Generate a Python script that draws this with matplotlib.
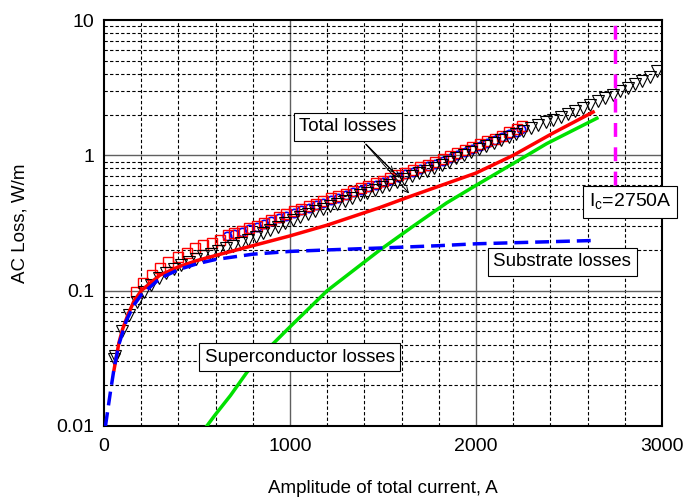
import matplotlib
matplotlib.use("Agg")
import matplotlib.pyplot as plt
from matplotlib.ticker import MultipleLocator, NullFormatter, FixedLocator, FixedFormatter

plt.rcParams['font.family'] = ['Liberation Sans', 'DejaVu Sans']

# calculated curves
total_x = [54, 80, 100, 130, 160, 200, 300, 400, 500, 600, 800, 1000, 1200, 1480, 1660, 2000, 2200, 2410, 2630]
total_y = [0.026, 0.041, 0.052, 0.067, 0.083, 0.1, 0.13, 0.15, 0.167, 0.182, 0.215, 0.254, 0.305, 0.41, 0.505, 0.74, 1.0, 1.45, 2.09]

substrate_x = [8, 20, 35, 55, 80, 120, 160, 200, 300, 400, 500, 600, 800, 1000, 1200, 1500, 1800, 2000, 2300, 2640]
substrate_y = [0.01, 0.013, 0.018, 0.027, 0.04, 0.06, 0.078, 0.093, 0.123, 0.143, 0.158, 0.17, 0.186, 0.195, 0.2, 0.207, 0.215, 0.222, 0.228, 0.235]

sc_x = [553, 600, 680, 769, 880, 1000, 1200, 1484, 1663, 1842, 2000, 2200, 2380, 2650]
sc_y = [0.01, 0.0122, 0.0168, 0.025, 0.037, 0.054, 0.1, 0.2, 0.3, 0.445, 0.6, 0.87, 1.22, 1.88]

# measured data
tri_x = [55, 60, 95, 135, 175, 215, 255, 295, 335, 375, 415, 455, 495, 535, 575, 615, 655,
         695, 735, 775, 815, 855, 895, 935, 975, 1015, 1055, 1095, 1135, 1175, 1215,
         1255, 1295, 1335, 1375, 1415, 1455, 1495, 1535, 1575, 1615, 1655, 1695, 1735,
         1775, 1815, 1855, 1895, 1935, 1975, 2015, 2055, 2095, 2135, 2175, 2215, 2255,
         2295, 2335, 2375, 2415, 2455, 2495, 2535, 2575, 2615, 2655, 2695, 2735, 2775,
         2815, 2855, 2895, 2935, 2975]
tri_y = [0.031, 0.033, 0.05, 0.066, 0.083, 0.097, 0.11, 0.123, 0.134, 0.145, 0.155, 0.164, 0.172,
         0.18, 0.188, 0.196, 0.205, 0.215, 0.226, 0.238, 0.25, 0.265, 0.28, 0.297, 0.315,
         0.333, 0.35, 0.367, 0.385, 0.402, 0.42, 0.44, 0.46, 0.48, 0.505, 0.53, 0.555,
         0.58, 0.605, 0.635, 0.665, 0.7, 0.735, 0.77, 0.81, 0.855, 0.9, 0.95, 1.0, 1.06,
         1.12, 1.18, 1.24, 1.3, 1.37, 1.44, 1.51, 1.59, 1.67, 1.75, 1.84, 1.93, 2.03,
         2.13, 2.24, 2.36, 2.5, 2.64, 2.8, 2.97, 3.15, 3.35, 3.57, 3.82, 4.2]

sq_x = [172, 210, 256, 300, 344, 398, 446, 489, 532, 580, 624, 667, 700, 740, 780, 820,
        860, 900, 940, 980, 1020, 1060, 1100, 1140, 1180, 1220, 1260, 1300, 1340, 1380,
        1420, 1460, 1500, 1540, 1580, 1620, 1660, 1700, 1740, 1780, 1820, 1860, 1900,
        1940, 1980, 2020, 2060, 2100, 2140, 2180, 2220, 2250]
sq_y = [0.098, 0.114, 0.13, 0.147, 0.163, 0.178, 0.19, 0.206, 0.217, 0.225, 0.236, 0.257,
        0.265, 0.277, 0.29, 0.303, 0.318, 0.333, 0.35, 0.368, 0.385, 0.402, 0.42, 0.44,
        0.46, 0.48, 0.5, 0.522, 0.545, 0.57, 0.595, 0.62, 0.65, 0.678, 0.71, 0.745, 0.78,
        0.815, 0.855, 0.9, 0.945, 0.99, 1.04, 1.09, 1.15, 1.21, 1.27, 1.33, 1.4, 1.48,
        1.56, 1.65]

circ_x = [660, 700, 740, 780, 820, 860, 900, 940, 980, 1020, 1060, 1100, 1140, 1180, 1220,
          1260, 1300, 1340, 1380, 1420, 1460, 1500, 1540, 1580, 1620, 1660, 1700, 1740,
          1780, 1820, 1860, 1900, 1940, 1980, 2020, 2060, 2100, 2140, 2180, 2220, 2240]
circ_y = [0.255, 0.262, 0.272, 0.284, 0.297, 0.311, 0.326, 0.342, 0.358, 0.375, 0.392, 0.41,
          0.428, 0.447, 0.467, 0.488, 0.51, 0.532, 0.555, 0.58, 0.605, 0.632, 0.66, 0.69,
          0.722, 0.755, 0.79, 0.83, 0.87, 0.915, 0.96, 1.01, 1.06, 1.115, 1.17, 1.23, 1.29,
          1.36, 1.43, 1.5, 1.56]

Ic = 2750

fig = plt.figure(figsize=(6.85, 4.98), dpi=100)
ax = fig.add_axes([0.1518, 0.1446, 0.8146, 0.8152])
ax.set_yscale('log')
ax.set_xlim(0, 3000)
ax.set_ylim(0.01, 10)

# grid
for x in range(200, 3000, 200):
    if x % 1000 == 0:
        ax.axvline(x, color='#606060', lw=1.0, zorder=0)
    else:
        ax.axvline(x, color='black', lw=0.8, ls=(0, (3, 2)), zorder=0)
for dec in [0.01, 0.1, 1]:
    for m in range(2, 10):
        ax.axhline(dec * m, color='black', lw=0.8, ls=(0, (3, 2)), zorder=0)
for y in [0.1, 1]:
    ax.axhline(y, color='#606060', lw=1.0, zorder=0)

ax.plot(circ_x, circ_y, 'o', mfc='none', mec='blue', ms=6, mew=1.2, zorder=3)
ax.plot(sq_x, sq_y, 's', mfc='none', mec='red', ms=7, mew=1.0, zorder=3)
ax.plot(tri_x, tri_y, 'v', mfc='none', mec='black', ms=8, mew=0.8, zorder=3)

ax.plot(total_x, total_y, color='red', lw=2.5, zorder=4)
ax.plot(sc_x, sc_y, color='#00e000', lw=2.5, zorder=4)
ax.plot(substrate_x, substrate_y, color='blue', lw=2.5, ls=(0, (4, 2)), zorder=4)
ax.plot([Ic, Ic], [0.6, 10], color='magenta', lw=2.5, ls=(0, (4, 3)), zorder=4)

box = dict(boxstyle='square,pad=0.3', fc='white', ec='black', lw=0.8)
ax.text(1312, 1.62, 'Total losses', fontsize=13.5, ha='center', va='center', bbox=box, zorder=6)
ax.text(1053, 0.0323, 'Superconductor losses', fontsize=13.5, ha='center', va='center', bbox=box, zorder=6)
ax.text(2463, 0.163, 'Substrate losses', fontsize=13.5, ha='center', va='center', bbox=box, zorder=6)
ax.text(2828, 0.45, r'I$_\mathregular{c}$=2750A', fontsize=14, ha='center', va='center',
        bbox=box, zorder=6, clip_on=False)

for tx, ty in [(1650, 0.505), (1600, 0.66), (1570, 0.72)]:
    ax.annotate('', xy=(tx, ty), xytext=(1398, 1.25),
                arrowprops=dict(arrowstyle='->', color='black', lw=0.7), zorder=5)

ax.xaxis.set_major_locator(MultipleLocator(1000))
ax.yaxis.set_major_locator(FixedLocator([0.01, 0.1, 1, 10]))
ax.yaxis.set_major_formatter(FixedFormatter(['0.01', '0.1', '1', '10']))
ax.yaxis.set_minor_formatter(NullFormatter())
ax.tick_params(which='both', length=0, labelsize=14, pad=9)
ax.tick_params(axis='y', pad=7)
for s in ax.spines.values():
    s.set_linewidth(1.5)

ax.set_xlabel('Amplitude of total current, A', fontsize=13.5, labelpad=18)
ax.set_ylabel('AC Loss, W/m', fontsize=13.5, labelpad=20)

fig.savefig('out.png', dpi=100)
